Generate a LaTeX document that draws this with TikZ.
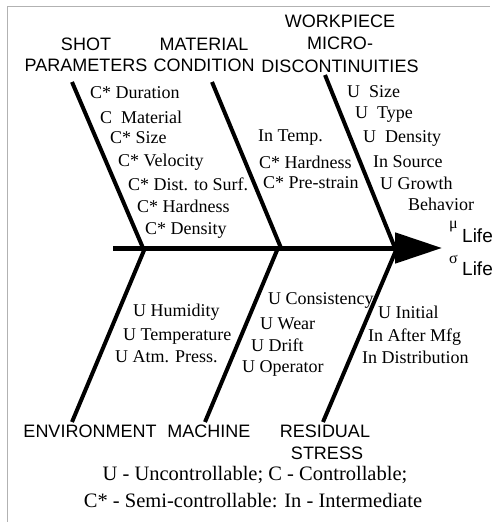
\documentclass[tikz,border=0pt]{standalone}
\usepackage{fontspec}
\setmainfont{Liberation Serif}
\newfontfamily\hdrfont{Liberation Sans}
\usetikzlibrary{arrows.meta}
\tikzset{
  bone/.style={line width=4pt},
  spine/.style={line width=5pt,-{Triangle[length=47pt,width=30pt]}},
  hdr/.style={font=\hdrfont\fontsize{18}{20}\selectfont,inner sep=0pt,anchor=center},
  item/.style={font=\fontsize{18}{20}\selectfont,inner sep=0pt,anchor=west},
  legend/.style={font=\fontsize{20.5}{22}\selectfont,inner sep=0pt,anchor=center},
  greek/.style={font=\fontsize{16}{17}\selectfont,inner sep=0pt,anchor=west},
  lifetxt/.style={font=\hdrfont\fontsize{19}{20}\selectfont,inner sep=0pt,anchor=west},
  frame/.style={draw=gray!60,line width=1pt}
}
\begin{document}
\begin{tikzpicture}[x=1pt,y=-1pt]
\useasboundingbox (0,0) rectangle (496,522);
\coordinate (fa) at (7,522);
\coordinate (fb) at (7,6);
\coordinate (fc) at (490,6);
\draw[frame] (fa) -- (fb) -- (fc);
% spine
\coordinate (sL) at (113,248);
\coordinate (sR) at (442,248);
\draw[spine] (sL) -- (sR);
% upper bones
\coordinate (b1t) at (72,82);  \coordinate (b1b) at (143,248);
\coordinate (b2t) at (212,82); \coordinate (b2b) at (281,248);
\coordinate (b3t) at (325,75); \coordinate (b3b) at (395,248);
\draw[bone] (b1t) -- (b1b);
\draw[bone] (b2t) -- (b2b);
\draw[bone] (b3t) -- (b3b);
% lower bones
\coordinate (b4t) at (145,248); \coordinate (b4b) at (72,422);
\coordinate (b5t) at (278,248); \coordinate (b5b) at (205,422);
\coordinate (b6t) at (397,248); \coordinate (b6b) at (323,422);
\draw[bone] (b4t) -- (b4b);
\draw[bone] (b5t) -- (b5b);
\draw[bone] (b6t) -- (b6b);
% headers
\node[hdr] (h1a) at (86,44) {SHOT};
\node[hdr] (h1b) at (86,65) {PARAMETERS};
\node[hdr] (h2a) at (204,44) {MATERIAL};
\node[hdr] (h2b) at (204,65) {CONDITION};
\node[hdr] (h3a) at (340,21) {WORKPIECE};
\node[hdr] (h3b) at (340,43) {MICRO-};
\node[hdr] (h3c) at (340,66) {DISCONTINUITIES};
\node[hdr] (h4) at (90,431) {ENVIRONMENT};
\node[hdr] (h5) at (209,431) {MACHINE};
\node[hdr] (h6a) at (325,431) {RESIDUAL};
\node[hdr] (h6b) at (327,453) {STRESS};
% shot parameters items
\node[item] (i11) at (90,93) {C* Duration};
\node[item] (i12) at (100,117) {C\ \ Material};
\node[item] (i13) at (110,138) {C* Size};
\node[item] (i14) at (118,162) {C* Velocity};
\node[item] (i15) at (128,184) {C* Dist. to Surf.};
\node[item] (i16) at (137,206) {C* Hardness};
\node[item] (i17) at (145,230) {C* Density};
% material condition items
\node[item] (i21) at (258,138) {In Temp.};
\node[item] (i22) at (259,162) {C* Hardness};
\node[item] (i23) at (263,183) {C* Pre-strain};
% workpiece items
\node[item] (i31) at (347,92) {U\ \ Size};
\node[item] (i32) at (355,115) {U\ \ Type};
\node[item] (i33) at (363,138) {U\ \ Density};
\node[item] (i34) at (373,162) {In Source};
\node[item] (i35) at (380,183) {U Growth};
\node[item] (i36) at (408,204) {Behavior};
% outputs
\node[greek] (mu) at (449,227) {μ};
\node[lifetxt] (l1) at (462,236) {Life};
\node[greek] (sg) at (449,259) {σ};
\node[lifetxt] (l2) at (462,269) {Life};
% environment items
\node[item] (i41) at (133,312) {U Humidity};
\node[item] (i42) at (123,337) {U Temperature};
\node[item] (i43) at (115,357) {U Atm. Press.};
% machine items
\node[item] (i51) at (268,300) {U Consistency};
\node[item] (i52) at (260,324) {U Wear};
\node[item] (i53) at (251,345) {U Drift};
\node[item] (i54) at (242,368) {U Operator};
% residual stress items
\node[item] (i61) at (378,312) {U Initial};
\node[item] (i62) at (368,337) {In After Mfg};
\node[item] (i63) at (362,357) {In Distribution};
% legend
\node[legend] (lg1) at (255,475) {U - Uncontrollable; C - Controllable;};
\node[legend] (lg2) at (253,501) {C* - Semi-controllable: In - Intermediate};
\end{tikzpicture}
\end{document}
